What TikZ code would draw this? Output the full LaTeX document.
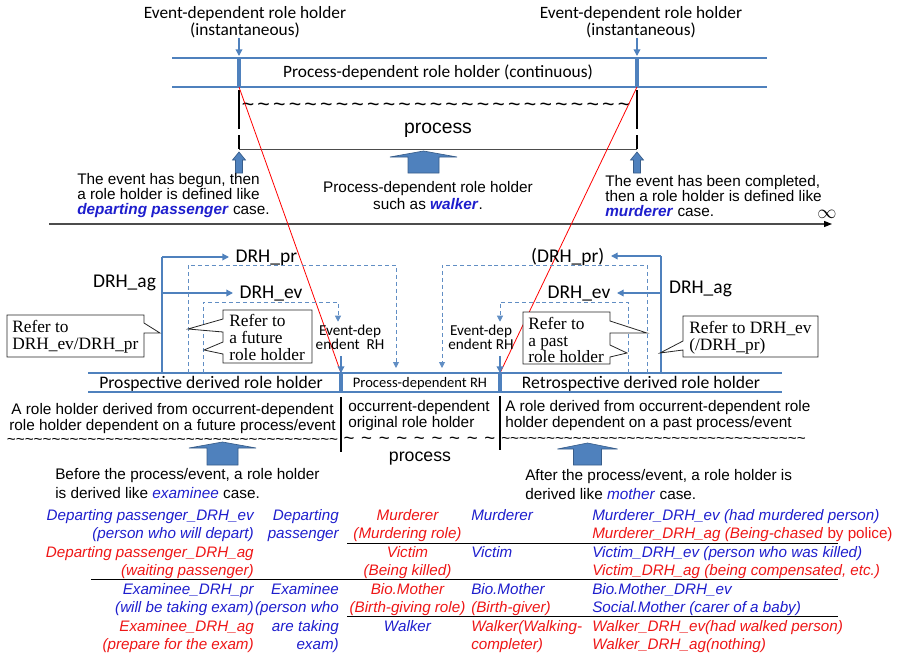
\documentclass[tikz,border=0pt]{standalone}
\usepackage{fontspec}
\setmainfont{Liberation Sans}
\newfontfamily\calfont{Carlito}
\newfontfamily\timesfont{Liberation Serif}
\usetikzlibrary{arrows.meta}
\usetikzlibrary{positioning}

\definecolor{rhblue}{RGB}{79,129,189}
\definecolor{rhedge}{RGB}{56,93,138}
\definecolor{tblue}{RGB}{30,30,205}
\definecolor{tred}{RGB}{238,22,22}

\newcommand{\blockup}[6]{%
  \filldraw[fill=rhblue, draw=rhedge, line width=0.5pt]
    (#1,#2) -- (#1+#4,#2+#6) -- (#1+#5,#2+#6) -- (#1+#5,#3)
    -- (#1-#5,#3) -- (#1-#5,#2+#6) -- (#1-#4,#2+#6) -- cycle;}
\newcommand{\tilderow}[1]{\foreach \k in {1,...,#1}{\textasciitilde}}

\begin{document}
\begin{tikzpicture}[x=0.75pt, y=-0.75pt,
        bandline/.style={rhblue, line width=1.6pt},
        divider/.style={rhblue, line width=2.4pt},
        conn/.style={rhblue, line width=1pt},
        connarrow/.style={conn, -{Triangle[length=5pt,width=5pt]}},
        dashconn/.style={rhblue!90, line width=0.7pt, dash pattern=on 3pt off 2.2pt},
        dasharrow/.style={dashconn, -{Triangle[length=4.5pt,width=4.5pt]}},
        evlabel/.style={font=\calfont\fontsize{13}{12.75}\selectfont, align=center, inner sep=0pt},
        drhlabel/.style={font=\calfont\fontsize{14.6}{15}\selectfont, inner sep=0pt, outer xsep=5pt},
        body/.style={font=\fontsize{11.5}{11.25}\selectfont, inner sep=0pt},
        calltext/.style={font=\timesfont\fontsize{13}{12.5}\selectfont, align=left, inner sep=0pt, anchor=west},
        callbox/.style={draw=black!85, fill=white, line width=0.6pt},
        cell/.style={font=\fontsize{11.4}{13}\selectfont\itshape, inner sep=0pt},
        wave/.style={font=\fontsize{16}{16}\selectfont, inner sep=0pt},
        redline/.style={red, line width=0.6pt},
    ]
    \useasboundingbox (0,0) rectangle (901,654);

    \coordinate (tbTL) at (172,58);
    \coordinate (tbTR) at (767,58);
    \coordinate (tbBL) at (172,87);
    \coordinate (tbBR) at (767,87);
    \coordinate (evTopL) at (239,58);
    \coordinate (evBotL) at (239,87);
    \coordinate (evTopR) at (637,58);
    \coordinate (evBotR) at (637,87);
    \draw[bandline] (tbTL) -- (tbTR);
    \draw[bandline] (tbBL) -- (tbBR);
    \draw[divider] (evTopL) -- (evBotL);
    \draw[divider] (evTopR) -- (evBotR);

    \node[evlabel] (evL) at (245,22) {Event-dependent role holder\\(instantaneous)};
    \node[evlabel] (evR) at (641,22) {Event-dependent role holder\\(instantaneous)};
    \draw[connarrow] (evL.south -| evTopL) -- ([yshift=1.5pt]evTopL);
    \draw[connarrow] (evR.south -| evTopR) -- ([yshift=1.5pt]evTopR);
    \node[evlabel] (pdrh) at (438,73) {Process-dependent role holder (continuous)};

    \foreach \i in {0,...,24}
        \node[wave] (tw\i) at (248+15.67*\i,107) {\textasciitilde};

    \coordinate (plL) at (239,149);
    \coordinate (plR) at (637,149);
    \draw[black, line width=0.8pt, dash pattern=on 29.25pt off 4.5pt on 20pt] ([yshift=-2.25pt]evBotL) -- (plL);
    \draw[black, line width=0.8pt, dash pattern=on 29.25pt off 4.5pt on 20pt] ([yshift=-2.25pt]evBotR) -- (plR);
    \draw[black!70, line width=0.7pt] (plL) -- (plR);
    \node[font=\fontsize{14.5}{15}\selectfont, inner sep=0pt] (procT) at (438,130) {process};

    \blockup{239}{152}{173}{6.5}{3.5}{8}
    \blockup{637}{152}{173}{6.5}{3.5}{8}
    \blockup{423.5}{151}{173}{33.5}{15.5}{6}

    \node[body, anchor=west, align=left] (begunTxt) at (77,196)
        {The event has begun, then\\a role holder is defined like\\\textcolor{tblue}{\textbf{\textit{departing passenger}}} case.};
    \node[body, align=center, font=\fontsize{11.5}{12.75}\selectfont] (walkTxt) at (428,195.5)
        {Process-dependent role holder\\such as \textcolor{tblue}{\textbf{\textit{walker}}}.};
    \node[body, anchor=west, align=left] (murdTxt) at (605,196)
        {The event has been completed,\\then a role holder is defined like\\\textcolor{tblue}{\textbf{\textit{murderer}}} case.};
    \node[font=\fontsize{14}{14}\selectfont, inner sep=0pt] (infMark) at (827,214) {$\infty$};

    \coordinate (axL) at (49,224);
    \coordinate (axR) at (832,224);
    \draw[black!70, line width=0.8pt, -{Triangle[length=6pt,width=4.5pt,black]}] (axL) -- (axR);

    \coordinate (mbTL) at (88,373);
    \coordinate (mbTR) at (782,373);
    \coordinate (mbBL) at (88,392);
    \coordinate (mbBR) at (782,392);
    \coordinate (divLtop) at (341,373);
    \coordinate (divLbot) at (341,392);
    \coordinate (divRtop) at (500,373);
    \coordinate (divRbot) at (500,392);

    \draw[redline] (evBotL) -- (divLtop);
    \draw[redline] (evBotR) -- (divRtop);

    \draw[bandline] (mbTL) -- (mbTR);
    \draw[bandline] (mbBL) -- (mbBR);
    \draw[divider] (divLtop) -- (divLbot);
    \draw[divider] (divRtop) -- (divRbot);
    \node[evlabel, font=\calfont\fontsize{13.2}{13}\selectfont] (prospL) at (211,383.5) {Prospective derived role holder};
    \node[evlabel, font=\calfont\fontsize{10.9}{11}\selectfont] (pdrhB) at (420,383.5) {Process-dependent RH};
    \node[evlabel, font=\calfont\fontsize{13.2}{13}\selectfont] (retroL) at (641,383.5) {Retrospective derived role holder};

    \coordinate (agL) at (162,373);
    \coordinate (agLtop) at (162,257);
    \coordinate (agLmid) at (162,293);
    \node[drhlabel, anchor=west] (drhprL) at (229,258) {DRH\_pr};
    \node[drhlabel, anchor=west] (drhevL) at (233,294) {DRH\_ev};
    \node[drhlabel] (drhagL) at (124.5,283) {DRH\_ag};
    \draw[conn] (agL) -- (agLtop);
    \draw[connarrow] (agLtop) -- (agLtop -| drhprL.west);
    \draw[connarrow] (agLmid) -- (agLmid -| drhevL.west);

    \node[evlabel, font=\calfont\fontsize{11.4}{10.5}\selectfont] (edL) at (350,337) {Event-dep\\endent~~RH};
    \coordinate (doL) at (188,373);
    \coordinate (doLc) at (396,265);
    \coordinate (doLe) at (396,368);
    \coordinate (diL) at (203,373);
    \coordinate (diLc) at (338,302);
    \draw[dasharrow] (doL) |- (doLc) -- (doLe);
    \draw[dasharrow] (diL) |- (diLc) -- ([yshift=2pt]diLc |- edL.north);
    \draw[connarrow] ([yshift=-5pt]divLtop |- edL.south) -- (divLtop);

    \coordinate (agR) at (661,373);
    \coordinate (agRtop) at (661,256);
    \coordinate (agRmid) at (661,293);
    \node[drhlabel, anchor=east] (drhprR) at (611,257) {(DRH\_pr)};
    \node[drhlabel, anchor=east] (drhevR) at (617,294) {DRH\_ev};
    \node[drhlabel] (drhagR) at (700.5,289) {DRH\_ag};
    \draw[conn] (agR) -- (agRtop);
    \draw[connarrow] (agRtop) -- (agRtop -| drhprR.east);
    \draw[connarrow] (agRmid) -- (agRmid -| drhevR.east);

    \node[evlabel, font=\calfont\fontsize{11.4}{10.5}\selectfont] (edR) at (481,337) {Event-dep\\endent RH};
    \coordinate (doR) at (647,373);
    \coordinate (doRc) at (442,265);
    \coordinate (doRe) at (442,368);
    \coordinate (diR) at (628,373);
    \coordinate (diRc) at (500,302);
    \draw[dasharrow] (doR) |- (doRc) -- (doRe);
    \draw[dasharrow] (diR) |- (diRc) -- ([yshift=2pt]diRc |- edR.north);
    \draw[connarrow] ([yshift=-5pt]divRtop |- edR.south) -- (divRtop);

    \draw[callbox] (7,315) -- (144,315) -- (144,323) -- (160,333) -- (144,333) -- (144,357) -- (7,357) -- cycle;
    \node[calltext] (calA) at (12,337) {Refer to\\DRH\_ev/DRH\_pr};
    \draw[callbox] (312,310) -- (223,310) -- (223,319) -- (188,329) -- (223,332) -- (223,342) -- (204,350)
        -- (223,354) -- (223,363) -- (312,363) -- cycle;
    \node[calltext] (calB) at (229,337.5) {Refer to\\a future\\role holder};
    \draw[callbox] (523,312) -- (610,312) -- (610,321) -- (647,333) -- (610,333) -- (610,345) -- (627,353)
        -- (610,357) -- (610,364) -- (523,364) -- cycle;
    \node[calltext] (calC) at (528,340) {Refer to\\a past\\role holder};
    \draw[callbox] (683,316) -- (818,316) -- (818,357) -- (683,357) -- (683,350) -- (660,353) -- (683,341) -- cycle;
    \node[calltext] (calD) at (689,337.5) {Refer to DRH\_ev\\(/DRH\_pr)};

    \draw[black, line width=0.8pt] ([yshift=-3.75pt]divLbot) -- ++(0,55);
    \draw[black, line width=0.8pt] ([yshift=-3pt]divRbot) -- ++(0,54);

    \node[body, align=center, font=\fontsize{11.5}{12}\selectfont] (futTxt) at (172.5,418.5)
        {A role holder derived from occurrent-dependent\\role holder dependent on a future process/event};
    \node[body] (tilL) at (172.5,441) {\tilderow{37}};
    \node[body, anchor=west, align=left, font=\fontsize{11.5}{12}\selectfont] (origTxt) at (348,415.5)
        {occurrent-dependent\\original role holder};
    \foreach \i in {0,...,8}
        \node[wave, font=\fontsize{14}{14}\selectfont] (tm\i) at (349+17.6*\i,441) {\textasciitilde};
    \node[font=\fontsize{13.3}{14}\selectfont, inner sep=0pt] (procB) at (420,459) {process};
    \node[body, anchor=west, align=left, font=\fontsize{11.5}{12}\selectfont] (pastTxt) at (505,415.5)
        {A role derived from occurrent-dependent role\\holder dependent on a past process/event};
    \node[body] (tilR) at (653.5,440) {\tilderow{34}};

    \blockup{222.5}{442}{465}{33.5}{15.5}{6}
    \blockup{587.5}{443}{465}{30}{14}{6}

    \node[body, anchor=west, align=left, font=\fontsize{11.5}{14.25}\selectfont] (befTxt) at (55,484)
        {Before the process/event, a role holder\\is derived like \textcolor{tblue}{\textit{examinee}} case.};
    \node[body, anchor=west, align=left, font=\fontsize{11.5}{14.25}\selectfont] (aftTxt) at (525,485)
        {After the process/event, a role holder is\\derived like \textcolor{tblue}{\textit{mother}} case.};

    \coordinate (hl1a) at (91,579);
    \coordinate (hl1b) at (838,579);
    \coordinate (hl2a) at (347,543);
    \coordinate (hl2b) at (838,543);
    \coordinate (hl3a) at (347,616);
    \coordinate (hl3b) at (838,616);
    \draw[black, line width=0.7pt] (hl1a) -- (hl1b);
    \draw[black, line width=0.7pt] (hl2a) -- (hl2b);
    \draw[black, line width=0.7pt] (hl3a) -- (hl3b);

    \foreach \r/\c/\t in {1/tblue/{Departing passenger\_DRH\_ev}, 2/tblue/{(person who will depart)},
            3/tred/{Departing passenger\_DRH\_ag}, 4/tred/{(waiting passenger)},
            5/tblue/{Examinee\_DRH\_pr}, 6/tblue/{(will be taking exam)},
            7/tred/{Examinee\_DRH\_ag}, 8/tred/{(prepare for the exam)}}
        \node[cell, text=\c, anchor=mid east] (ca\r) at (254,498+18.5*\r) {\t};
    \foreach \r/\t in {1/Departing, 2/passenger, 5/Examinee, 6/{(person who}, 7/{are taking}, 8/{exam)}}
        \node[cell, text=tblue, anchor=mid east] (cb\r) at (339,498+18.5*\r) {\t};
    \foreach \r/\c/\t in {1/tred/Murderer, 2/tred/{(Murdering role)}, 3/tred/Victim, 4/tred/{(Being killed)},
            5/tred/{Bio.Mother}, 6/tred/{(Birth-giving role)}, 7/tblue/Walker}
        \node[cell, text=\c, anchor=mid] (cc\r) at (407.5,498+18.5*\r) {\t};
    \foreach \r/\c/\t in {1/tblue/Murderer, 3/tblue/Victim, 5/tblue/{Bio.Mother}, 6/tred/{(Birth-giver)},
            7/tred/{Walker(Walking-}, 8/tred/{completer)}}
        \node[cell, text=\c, anchor=mid west] (cd\r) at (471,498+18.5*\r) {\t};
    \foreach \r/\c/\t in {1/tblue/{Murderer\_DRH\_ev (had murdered person)},
            2/tred/{Murderer\_DRH\_ag (Being-chased\ \textup{by police)}},
            3/tblue/{Victim\_DRH\_ev (person who was killed)},
            4/tred/{Victim\_DRH\_ag (being compensated, etc.)},
            5/tblue/{Bio.Mother\_DRH\_ev}, 6/tblue/{Social.Mother (carer of a baby)},
            7/tred/{Walker\_DRH\_ev(had walked person)}, 8/tred/{Walker\_DRH\_ag(nothing)}}
        \node[cell, text=\c, anchor=mid west] (ce\r) at (592,498+18.5*\r) {\t};
    \end{tikzpicture}
\end{document}
